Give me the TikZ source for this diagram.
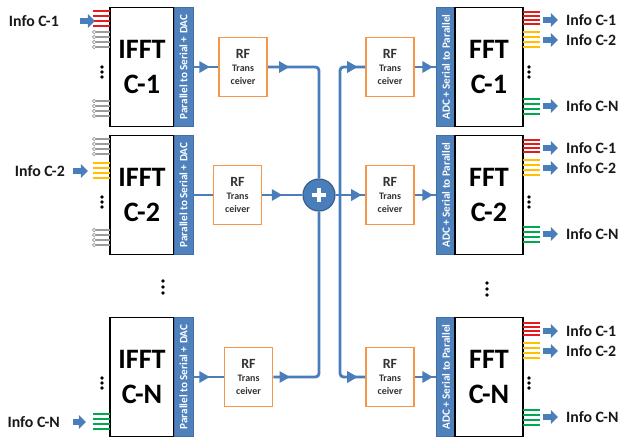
\documentclass[tikz,border=0pt]{standalone}
\usepackage{fontspec}
\setmainfont{Carlito}
\usetikzlibrary{arrows.meta,decorations.markings}
\definecolor{barblue}{HTML}{4F81BD}
\definecolor{sigblue}{HTML}{4A7EBB}
\definecolor{rforange}{HTML}{F79646}
\definecolor{wirered}{HTML}{E41A1C}
\definecolor{wireyellow}{HTML}{FFC000}
\definecolor{wiregreen}{HTML}{00A850}
\definecolor{wiregray}{HTML}{9A9A9A}

\begin{document}
\begin{tikzpicture}[x=0.03cm,y=-0.03cm,
  fftbox/.style={draw=black,line width=1.2pt,fill=white,minimum width=1.92cm,minimum height=3.57cm,inner sep=0pt,align=center,font=\fontsize{24}{30}\selectfont\bfseries},
  convbar/.style={fill=barblue,draw=barblue!85!black,line width=0.4pt,rotate=90,minimum width=3.57cm,minimum height=0.57cm,inner sep=0pt,text=white,font=\fontsize{9.5}{10}\selectfont\bfseries},
  rfbox/.style={draw=rforange,line width=1.5pt,fill=white,minimum width=1.44cm,minimum height=1.77cm,inner sep=0pt,align=center,text=black!80,font=\fontsize{8.5}{11}\selectfont\bfseries},
  info/.style={inner sep=0pt,font=\fontsize{13.5}{16}\selectfont\bfseries,text=black!90},
  sig/.style={color=sigblue,line width=2.4pt,rounded corners=3pt},
  arrowat/.style={postaction={decorate,decoration={markings,mark=at position #1 with {\arrow{Triangle[length=9pt,width=9.5pt]}}}}},
  fatarr/.style={sigblue,line width=5pt,-{Triangle[length=6pt,width=11.5pt]}},
  sumnode/.style={circle,fill=sigblue,draw=sigblue!75!black,line width=1pt,minimum size=0.96cm,inner sep=0pt},
  plusbar/.style={white,line width=3.2pt},
  redwire/.style={wirered,line width=1.6pt},
  yellowwire/.style={wireyellow,line width=1.6pt},
  greenwire/.style={wiregreen,line width=1.6pt},
  graywire/.style={wiregray,line width=1.3pt,{Circle[open,length=3.6pt,width=3.6pt,line width=0.6pt]}-}]
\useasboundingbox (0,0) rectangle (622,438);

\node[fftbox] (ifft1) at (142,67) {IFFT\\C-1};
\node[fftbox] (ifft2) at (142,195) {IFFT\\C-2};
\node[fftbox] (ifftn) at (142,377) {IFFT\\C-N};
\node[convbar] (ps1) at (183.5,67) {Parallel to Serial + DAC};
\node[convbar] (ps2) at (183.5,195) {Parallel to Serial + DAC};
\node[convbar] (psn) at (183.5,377) {Parallel to Serial + DAC};

\node[rfbox] (rft1) at (243,67) {{\fontsize{12}{14}\selectfont RF}\\Trans\\ceiver};
\node[rfbox] (rft2) at (237.5,195) {{\fontsize{12}{14}\selectfont RF}\\Trans\\ceiver};
\node[rfbox] (rftn) at (248.5,377) {{\fontsize{12}{14}\selectfont RF}\\Trans\\ceiver};

\node[sumnode] (sum) at (319,195) {};
\draw[plusbar] ([xshift=-0.22cm]sum.center) -- ([xshift=0.22cm]sum.center);
\draw[plusbar] ([yshift=-0.22cm]sum.center) -- ([yshift=0.22cm]sum.center);
\coordinate (split) at (340,195);

\node[rfbox] (rfr1) at (390,67) {{\fontsize{12}{14}\selectfont RF}\\Trans\\ceiver};
\node[rfbox] (rfr2) at (390,195) {{\fontsize{12}{14}\selectfont RF}\\Trans\\ceiver};
\node[rfbox] (rfrn) at (390,377) {{\fontsize{12}{14}\selectfont RF}\\Trans\\ceiver};

\node[convbar] (sp1) at (446,67) {ADC + Serial to Parallel};
\node[convbar] (sp2) at (446,195) {ADC + Serial to Parallel};
\node[convbar] (spn) at (446,377) {ADC + Serial to Parallel};
\node[fftbox,minimum width=2.04cm] (fft1) at (489,67) {FFT\\C-1};
\node[fftbox,minimum width=2.04cm] (fft2) at (489,195) {FFT\\C-2};
\node[fftbox,minimum width=2.04cm] (fftn) at (489,377) {FFT\\C-N};

\draw[sig,arrowat=0.5cm] (ps1.south) -- (rft1.west);
\draw[sig,arrowat=0.6cm] (ps2.south) -- (rft2.west);
\draw[sig,arrowat=0.5cm] (psn.south) -- (rftn.west);
\draw[sig,arrowat=0.65cm] (rft1.east) -| (sum.north);
\draw[sig,arrowat=0.6cm] (rft2.east) -- (sum.west);
\draw[sig,arrowat=0.5cm] (rftn.east) -| (sum.south);
\draw[sig,arrowat=-0.1cm] (sum.east) -- (rfr2.west);
\draw[sig,arrowat=-0.22cm] (split) |- (rfr1.west);
\draw[sig,arrowat=-0.22cm] (split) |- (rfrn.west);
\draw[sig,arrowat=-0.1cm] (rfr1.east) -- (sp1.north);
\draw[sig,arrowat=-0.1cm] (rfr2.east) -- (sp2.north);
\draw[sig,arrowat=-0.1cm] (rfrn.east) -- (spn.north);

\draw[redwire] (93,11) -- (110,11);
\draw[redwire] (93,16) -- (110,16);
\draw[redwire] (93,21) -- (110,21);
\draw[redwire] (93,26) -- (110,26);
\draw[graywire] (92,32) -- (110,32);
\draw[graywire] (92,37) -- (110,37);
\draw[graywire] (92,42) -- (110,42);
\draw[graywire] (92,47) -- (110,47);
\fill (102,67) circle (1.9) (102,72) circle (1.9) (102,77) circle (1.9);
\draw[graywire] (92,101) -- (110,101);
\draw[graywire] (92,106) -- (110,106);
\draw[graywire] (92,111) -- (110,111);
\draw[graywire] (92,116) -- (110,116);

\draw[graywire] (92,139) -- (110,139);
\draw[graywire] (92,144) -- (110,144);
\draw[graywire] (92,149) -- (110,149);
\draw[graywire] (92,154) -- (110,154);
\draw[yellowwire] (93,163) -- (110,163);
\draw[yellowwire] (93,168) -- (110,168);
\draw[yellowwire] (93,173) -- (110,173);
\draw[yellowwire] (93,178) -- (110,178);
\fill (102,197) circle (1.9) (102,202) circle (1.9) (102,207) circle (1.9);
\draw[graywire] (92,230) -- (110,230);
\draw[graywire] (92,235) -- (110,235);
\draw[graywire] (92,240) -- (110,240);
\draw[graywire] (92,245) -- (110,245);

\fill (102,378) circle (1.9) (102,383) circle (1.9) (102,388) circle (1.9);
\draw[greenwire] (93,414) -- (110,414);
\draw[greenwire] (93,419) -- (110,419);
\draw[greenwire] (93,424) -- (110,424);
\draw[greenwire] (93,429) -- (110,429);

\draw[redwire] (523,12) -- (540,12);
\draw[redwire] (523,16) -- (540,16);
\draw[redwire] (523,20) -- (540,20);
\draw[redwire] (523,24) -- (540,24);
\draw[yellowwire] (523,32) -- (540,32);
\draw[yellowwire] (523,37) -- (540,37);
\draw[yellowwire] (523,42) -- (540,42);
\draw[yellowwire] (523,47) -- (540,47);
\fill (529,67) circle (1.9) (529,72) circle (1.9) (529,77) circle (1.9);
\draw[greenwire] (523,99) -- (540,99);
\draw[greenwire] (523,104) -- (540,104);
\draw[greenwire] (523,109) -- (540,109);
\draw[greenwire] (523,114) -- (540,114);

\draw[redwire] (523,140) -- (540,140);
\draw[redwire] (523,144) -- (540,144);
\draw[redwire] (523,148) -- (540,148);
\draw[redwire] (523,152) -- (540,152);
\draw[yellowwire] (523,160) -- (540,160);
\draw[yellowwire] (523,165) -- (540,165);
\draw[yellowwire] (523,170) -- (540,170);
\draw[yellowwire] (523,175) -- (540,175);
\fill (529,197) circle (1.9) (529,202) circle (1.9) (529,207) circle (1.9);
\draw[greenwire] (523,227) -- (540,227);
\draw[greenwire] (523,232) -- (540,232);
\draw[greenwire] (523,237) -- (540,237);
\draw[greenwire] (523,242) -- (540,242);

\draw[redwire] (523,323) -- (540,323);
\draw[redwire] (523,327) -- (540,327);
\draw[redwire] (523,331) -- (540,331);
\draw[redwire] (523,335) -- (540,335);
\draw[yellowwire] (523,343) -- (540,343);
\draw[yellowwire] (523,348) -- (540,348);
\draw[yellowwire] (523,353) -- (540,353);
\draw[yellowwire] (523,358) -- (540,358);
\fill (529,378) circle (1.9) (529,383) circle (1.9) (529,388) circle (1.9);
\draw[greenwire] (523,410) -- (540,410);
\draw[greenwire] (523,415) -- (540,415);
\draw[greenwire] (523,420) -- (540,420);
\draw[greenwire] (523,425) -- (540,425);

\fill (163,281) circle (1.9) (163,287) circle (1.9) (163,293) circle (1.9);
\fill (487,283) circle (1.9) (487,289) circle (1.9) (487,295) circle (1.9);

\node[info,anchor=east] (in1) at (59,21) {Info C-1};
\node[info,anchor=east] (in2) at (65,171) {Info C-2};
\node[info,anchor=east] (inn) at (60,422) {Info C-N};
\coordinate (ain1) at (95,21);
\coordinate (ain2) at (88,171);
\coordinate (ainn) at (86,422);
\draw[fatarr,shorten <=0.63cm] (in1.east) -- (ain1);
\draw[fatarr,shorten <=0.24cm] (in2.east) -- (ain2);
\draw[fatarr,shorten <=0.39cm] (inn.east) -- (ainn);

\node[info,anchor=west] (out11) at (566,20) {Info C-1};
\node[info,anchor=west] (out12) at (566,40) {Info C-2};
\node[info,anchor=west] (out1n) at (566,106) {Info C-N};
\node[info,anchor=west] (out21) at (566,148) {Info C-1};
\node[info,anchor=west] (out22) at (566,168) {Info C-2};
\node[info,anchor=west] (out2n) at (566,234) {Info C-N};
\node[info,anchor=west] (outn1) at (566,331) {Info C-1};
\node[info,anchor=west] (outn2) at (566,351) {Info C-2};
\node[info,anchor=west] (outnn) at (566,417) {Info C-N};
\coordinate (aout11) at (543,20);
\coordinate (aout12) at (543,40);
\coordinate (aout1n) at (543,106);
\coordinate (aout21) at (543,148);
\coordinate (aout22) at (543,168);
\coordinate (aout2n) at (543,234);
\coordinate (aoutn1) at (543,331);
\coordinate (aoutn2) at (543,351);
\coordinate (aoutnn) at (543,417);
\draw[fatarr,shorten >=0.24cm] (aout11) -- (out11.west);
\draw[fatarr,shorten >=0.24cm] (aout12) -- (out12.west);
\draw[fatarr,shorten >=0.24cm] (aout1n) -- (out1n.west);
\draw[fatarr,shorten >=0.24cm] (aout21) -- (out21.west);
\draw[fatarr,shorten >=0.24cm] (aout22) -- (out22.west);
\draw[fatarr,shorten >=0.24cm] (aout2n) -- (out2n.west);
\draw[fatarr,shorten >=0.24cm] (aoutn1) -- (outn1.west);
\draw[fatarr,shorten >=0.24cm] (aoutn2) -- (outn2.west);
\draw[fatarr,shorten >=0.24cm] (aoutnn) -- (outnn.west);
\end{tikzpicture}
\end{document}
